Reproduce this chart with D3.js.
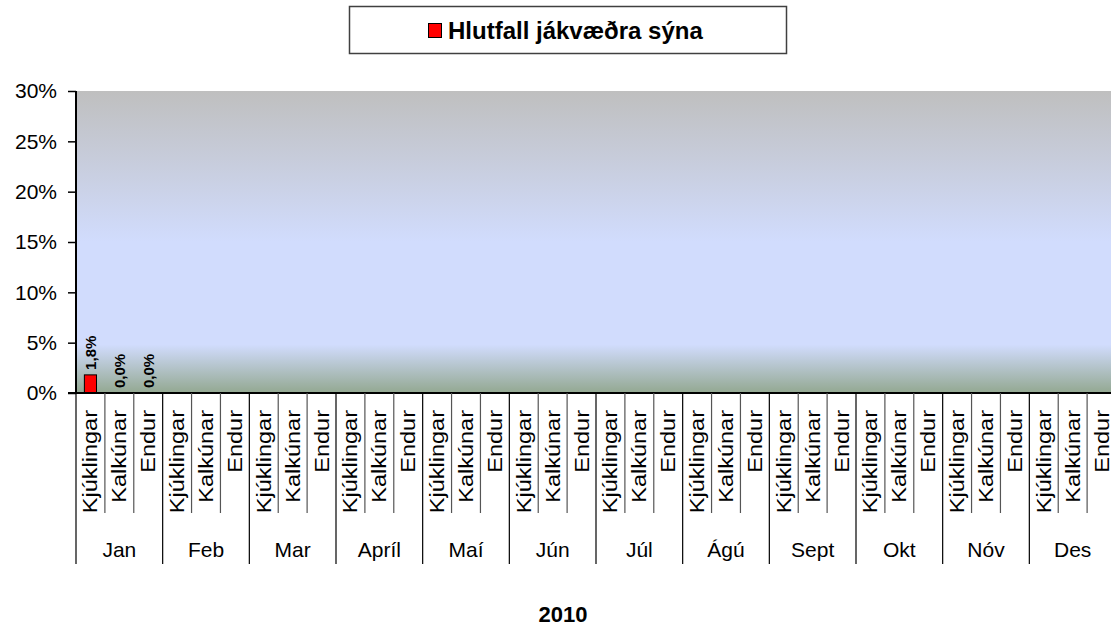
<!DOCTYPE html>
<html>
<head>
<meta charset="UTF-8">
<title>Hlutfall jákvæðra sýna</title>
<script src="https://cdn.jsdelivr.net/npm/d3@7"></script>
<style type="text/css">
	body{ margin:0; background:#fff; }
	svg{ display:block; font-family: Arial, "Liberation Sans", sans-serif; }
</style>
</head>
<body>
<script>
// data
var months = ["Jan","Feb","Mar","Apríl","Maí","Jún","Júl","Ágú","Sept","Okt","Nóv","Des"];
var kinds = ["Kjúklingar","Kalkúnar","Endur"];
// positive share (%) per month per kind, null = no sample
var values = [
	[1.8, 0.0, 0.0],
	[null,null,null],[null,null,null],[null,null,null],[null,null,null],
	[null,null,null],[null,null,null],[null,null,null],[null,null,null],
	[null,null,null],[null,null,null],[null,null,null]
];
var yTicks = [0,5,10,15,20,25,30];
var seriesName = "Hlutfall jákvæðra sýna";
var yearLabel = "2010";

var width = 1111, height = 629;
// plot area (window.top is reserved, so plotTop etc.)
var plotLeft = 76, plotRight = 1116, plotTop = 91, plotBottom = 393;

var svg = d3.select("body").append("svg")
	.attr("width", width)
	.attr("height", height);

// flat list of categories
var cats = [];
months.forEach(function(m, i){
	kinds.forEach(function(k, j){
		cats.push({key: m + "|" + k, month: m, kind: k, j: j, value: values[i][j]});
	});
});

var x = d3.scaleBand()
	.domain(cats.map(function(d){ return d.key; }))
	.range([plotLeft, plotRight])
	.paddingInner(0.58)
	.paddingOuter(0.29);
var step = x.step();

var y = d3.scaleLinear().domain([0, 30]).range([plotBottom, plotTop]);

// plot background gradient
var defs = svg.append("defs");
var grad = defs.append("linearGradient")
	.attr("id", "bg").attr("x1", 0).attr("y1", 0).attr("x2", 0).attr("y2", 1);
grad.append("stop").attr("offset", 0).attr("stop-color", "#bfbfbf");
grad.append("stop").attr("offset", 0.5).attr("stop-color", "#d1dcfd");
grad.append("stop").attr("offset", 0.84).attr("stop-color", "#d1dcfd");
grad.append("stop").attr("offset", 1).attr("stop-color", "#93a891");

svg.append("rect")
	.attr("x", plotLeft).attr("y", plotTop)
	.attr("width", plotRight - plotLeft).attr("height", plotBottom - plotTop)
	.attr("fill", "url(#bg)");

// bars
var withData = cats.filter(function(d){ return d.value != null; });
svg.append("g").selectAll("rect")
	.data(withData.filter(function(d){ return d.value > 0; }))
	.enter().append("rect")
		.attr("x", function(d){ return x(d.key); })
		.attr("y", function(d){ return y(d.value); })
		.attr("width", x.bandwidth())
		.attr("height", function(d){ return y(0) - y(d.value); })
		.attr("fill", "#ff0000")
		.attr("stroke", "#000")
		.attr("stroke-width", 1);

// data labels
svg.append("g").selectAll("text")
	.data(withData)
	.enter().append("text")
		.attr("transform", function(d){
			return "translate(" + (x(d.key) + x.bandwidth()/2 + 6) + "," + (y(d.value) - 5) + ") rotate(-90)";
		})
		.attr("font-size", "15px")
		.attr("font-weight", "bold")
		.attr("fill", "#000")
		.text(function(d){ return d.value.toFixed(1).replace(".", ",") + "%"; });

// y axis
var yAxis = svg.append("g")
	.attr("transform", "translate(" + plotLeft + ",0)")
	.call(d3.axisLeft(y).tickValues(yTicks).tickSize(8).tickPadding(11)
		.tickFormat(function(d){ return d + "%"; }));
yAxis.select(".domain").attr("stroke", "#000").attr("stroke-width", 2).attr("d", "M0," + plotTop + "V" + plotBottom);
yAxis.selectAll(".tick line").attr("stroke", "#000").attr("stroke-width", 1.5);
yAxis.selectAll(".tick text").attr("font-size", "21px").attr("fill", "#000")
	.attr("font-family", "Arial, 'Liberation Sans', sans-serif");

// x axis line
svg.append("line")
	.attr("x1", plotLeft - 8).attr("x2", plotRight)
	.attr("y1", plotBottom).attr("y2", plotBottom)
	.attr("stroke", "#000").attr("stroke-width", 2);

// separators between categories
var seps = d3.range(cats.length + 1);
svg.append("g").selectAll("line")
	.data(seps)
	.enter().append("line")
		.attr("x1", function(i){ return plotLeft + i * step; })
		.attr("x2", function(i){ return plotLeft + i * step; })
		.attr("y1", plotBottom)
		.attr("y2", function(i){ return i % 3 == 0 ? 564 : 513; })
		.attr("stroke", function(i){ return i % 3 == 0 ? "#000" : "#555"; })
		.attr("stroke-width", 1.2);

// category labels, rotated
svg.append("g").selectAll("text")
	.data(cats)
	.enter().append("text")
		.attr("transform", function(d){
			return "translate(" + (x(d.key) + x.bandwidth()/2 + 7) + ",410) rotate(-90) scale(1.12,1)";
		})
		.attr("text-anchor", "end")
		.attr("font-size", "21px")
		.attr("fill", "#000")
		.text(function(d){ return d.kind; });

// month labels
svg.append("g").selectAll("text")
	.data(months)
	.enter().append("text")
		.attr("x", function(d, i){ return plotLeft + (i * 3 + 1.5) * step; })
		.attr("y", 557)
		.attr("text-anchor", "middle")
		.attr("font-size", "21px")
		.attr("fill", "#000")
		.text(function(d){ return d; });

// year title
svg.append("text")
	.attr("x", 563).attr("y", 622)
	.attr("text-anchor", "middle")
	.attr("font-size", "22px")
	.attr("font-weight", "bold")
	.text(yearLabel);

// legend
var legend = svg.append("g");
legend.append("rect")
	.attr("x", 349.5).attr("y", 6.5).attr("width", 437).attr("height", 47)
	.attr("fill", "#fff").attr("stroke", "#404040").attr("stroke-width", 1.5);
legend.append("rect")
	.attr("x", 428.5).attr("y", 23.5).attr("width", 13).attr("height", 14)
	.attr("fill", "#ff0000").attr("stroke", "#000").attr("stroke-width", 1);
legend.append("text")
	.attr("x", 448).attr("y", 39)
	.attr("font-size", "24px")
	.attr("font-weight", "bold")
	.text(seriesName);
</script>
</body>
</html>
